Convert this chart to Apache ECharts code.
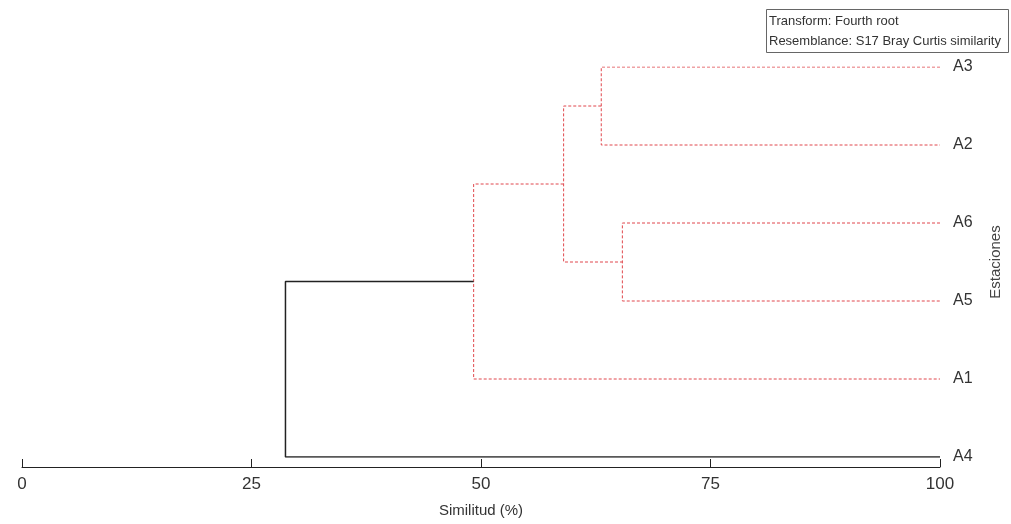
<!DOCTYPE html>
<html>
<head>
<meta charset="utf-8">
<title>Dendrograma estaciones</title>
<script src="https://cdn.jsdelivr.net/npm/echarts@6/dist/echarts.min.js"></script>
<style>
	html, body { margin: 0; padding: 0; background: #fff; }
	#chart { width: 1011px; height: 524px; }
</style>
</head>
<body>
<div id="chart"></div>
<script>
	// hojas en el orden en que aparecen (arriba -> abajo)
	var leaves = ['A3', 'A2', 'A6', 'A5', 'A1', 'A4'];
	// uniones: [hijo1, hijo2, similitud]; hijo >= 0 es hoja, 'c0'.. es cluster previo
	var merges = [
		[0, 1, 63.1],
		[2, 3, 65.4],
		['c0', 'c1', 59.0],
		['c2', 4, 49.2],
		['c3', 5, 28.7]
	];
	var xTicks = [0, 25, 50, 75, 100];

	var red = '#e0474c';
	var font = 'Liberation Sans Narrow, Liberation Sans, sans-serif';
	var nodes = {};

	function node(id) {
		if (typeof id === 'number') {
			return { x: 100, y: id };
		}
		return nodes[id];
	}

	var series = [];
	merges.forEach(function (m, i) {
		var a = node(m[0]);
		var b = node(m[1]);
		var last = i === merges.length - 1;
		nodes['c' + i] = { x: m[2], y: (a.y + b.y) / 2 };
		series.push({
			type: 'line',
			silent: true,
			symbol: 'none',
			animation: false,
			lineStyle: {
				color: last ? '#222' : red,
				width: last ? 1.5 : 1,
				type: last ? 'solid' : [3, 2]
			},
			data: [[a.x, a.y], [m[2], a.y], [m[2], b.y], [b.x, b.y]]
		});
	});

	var chart = echarts.init(document.getElementById('chart'));
	chart.setOption({
		animation: false,
		grid: { left: 22, right: 69, top: 67, bottom: 67 },
		xAxis: {
			type: 'value',
			position: 'bottom',
			min: xTicks[0],
			max: xTicks[xTicks.length - 1],
			interval: 25,
			offset: 10,
			name: 'Similitud (%)',
			nameLocation: 'middle',
			nameGap: 36,
			nameTextStyle: { color: '#333', fontSize: 15, fontFamily: font },
			splitLine: { show: false },
			axisLine: { onZero: false, lineStyle: { color: '#222', width: 1 } },
			axisTick: { inside: true, length: 8, lineStyle: { color: '#222' } },
			axisLabel: { color: '#333', fontSize: 17, margin: 9, fontFamily: font }
		},
		yAxis: {
			type: 'value',
			min: 0,
			max: leaves.length - 1,
			interval: 1,
			inverse: true,
			position: 'right',
			name: 'Estaciones',
			nameLocation: 'middle',
			nameRotate: 90,
			nameGap: 48,
			nameTextStyle: { color: '#444', fontSize: 15, fontFamily: font },
			splitLine: { show: false },
			axisLine: { show: false, onZero: false },
			axisTick: { show: false },
			axisLabel: {
				margin: 13,
				color: '#333',
				fontSize: 16,
				fontFamily: font,
				formatter: function (v) { return leaves[v] || ''; }
			}
		},
		graphic: [
			{
				type: 'rect',
				left: 766,
				top: 9,
				shape: { width: 242, height: 43 },
				style: { fill: '#fff', stroke: '#666', lineWidth: 1 }
			},
			{
				type: 'text',
				left: 769,
				top: 11,
				style: {
					text: 'Transform: Fourth root\nResemblance: S17 Bray Curtis similarity',
					fill: '#333',
					fontSize: 13,
					lineHeight: 20,
					fontFamily: font
				}
			}
		],
		series: series
	});
</script>
</body>
</html>
